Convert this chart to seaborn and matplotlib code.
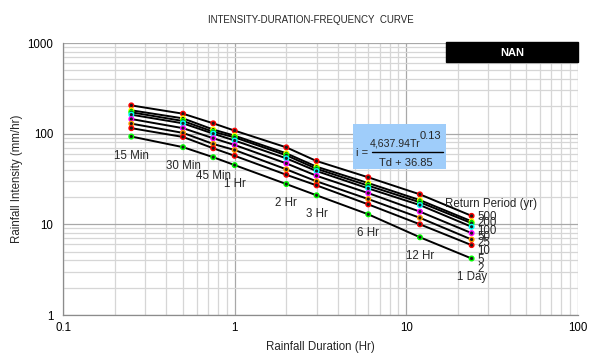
import numpy as np
import pandas as pd
import matplotlib
matplotlib.use("Agg")
import matplotlib.pyplot as plt
import seaborn as sns
from matplotlib.ticker import FixedLocator, FuncFormatter, LogLocator, NullFormatter
from matplotlib.patches import Rectangle

# ---- data ----
durations_hr = [0.25, 0.5, 0.75, 1, 2, 3, 6, 12, 24]
duration_labels = ["15 Min", "30 Min", "45 Min", "1 Hr", "2 Hr", "3 Hr", "6 Hr", "12 Hr", "1 Day"]
return_periods = [500, 200, 100, 50, 25, 10, 5, 2]
i_500 = [205, 166, 130, 108, 70.6, 49.9, 33.0, 21.4, 12.4]
i_200 = [181, 147.5, 111, 95, 60.7, 43.2, 28.5, 18.5, 10.8]
i_100 = [172, 138, 105, 91, 57.7, 41.0, 26.7, 17.5, 10.3]
i_50 = [162, 130, 100, 84, 53.4, 38.7, 24.9, 16.3, 9.4]
i_25 = [145, 115, 89, 75, 47.0, 34.3, 22.1, 13.8, 8.0]
i_10 = [129, 102, 77, 66, 40.4, 29.8, 19.0, 11.8, 6.8]
i_5 = [115, 92, 69, 57, 35.2, 26.9, 16.6, 10.0, 5.9]
i_2 = [93, 71, 55, 45, 27.8, 20.9, 12.9, 7.2, 4.2]
series = [i_500, i_200, i_100, i_50, i_25, i_10, i_5, i_2]
marker_colors = ["#ff0000", "#ffff00", "#00ff00", "#00ffff", "#ff00ff", "#ff9900", "#ff0000", "#00ff00"]
label_dy_px = [1.6, 2, 7.7, 10, 10, 11.7, 14.7, 10.6]

rows = []
for rp, vals in zip(return_periods, series):
    for d, v in zip(durations_hr, vals):
        rows.append({"rp": str(rp), "duration": d, "intensity": v})
df = pd.DataFrame(rows)

sns.set_theme(style="white")
plt.rcParams["font.family"] = ["Liberation Sans", "DejaVu Sans"]

W, H = 590, 354
fig = plt.figure(figsize=(W / 100, H / 100), dpi=100)
ax = fig.add_axes([63 / W, 1 - 315 / H, (578 - 63) / W, (315 - 43) / H])
ax.set_xscale("log")
ax.set_yscale("log")
ax.set_xlim(0.1, 100)
ax.set_ylim(1, 1000)

# grid
ax.xaxis.set_major_locator(FixedLocator([0.1, 1, 10, 100]))
ax.yaxis.set_major_locator(FixedLocator([1, 10, 100, 1000]))
ax.xaxis.set_minor_locator(LogLocator(base=10, subs=np.arange(2, 10)))
ax.yaxis.set_minor_locator(LogLocator(base=10, subs=np.arange(2, 10)))
ax.xaxis.set_minor_formatter(NullFormatter())
ax.yaxis.set_minor_formatter(NullFormatter())
fmt = FuncFormatter(lambda v, p: "%g" % v)
ax.xaxis.set_major_formatter(fmt)
ax.yaxis.set_major_formatter(fmt)
ax.grid(True, which="minor", color="#d6d6d6", lw=0.9)
ax.grid(True, which="major", color="#a8a8a8", lw=0.9)
ax.set_axisbelow(True)
for s in ["top", "right"]:
    ax.spines[s].set_visible(False)
for s in ["left", "bottom"]:
    ax.spines[s].set_color("#8c8c8c")
    ax.spines[s].set_linewidth(0.9)
ax.tick_params(which="both", length=0)
ax.tick_params(axis="x", labelsize=8.3, pad=5, colors="#000000")
ax.tick_params(axis="y", labelsize=8.3, pad=7, colors="#000000")

# lines (black) and coloured markers
sns.lineplot(data=df, x="duration", y="intensity", units="rp", estimator=None,
             color="black", lw=1.4, ax=ax, legend=False, zorder=3)
sns.scatterplot(data=df, x="duration", y="intensity", hue="rp",
                palette=dict(zip([str(r) for r in return_periods], marker_colors)),
                s=11, linewidth=1.0, ax=ax, legend=False, zorder=4)
coll = ax.collections[-1]
rp_keys = [str(r) for r in return_periods]
ec = [marker_colors[rp_keys.index(rp)] for rp in df["rp"]]
coll.set_edgecolors(ec)
coll.set_facecolors(["#1a1a1a"] * len(ec))

ax.set_xlabel("Rainfall Duration (Hr)", fontsize=8.3, labelpad=5)
ax.set_ylabel("Rainfall Intensity (mm/hr)", fontsize=8.3, labelpad=3)

# duration labels under 2-yr series
for d, v, lab in zip(durations_hr, i_2, duration_labels):
    ax.annotate(lab, xy=(d, v), xytext=(0, -19), textcoords="offset pixels",
                ha="center", va="center", fontsize=8.3)

# return period labels
for rp, vals, dy in zip(return_periods, series, label_dy_px):
    ax.annotate(str(rp), xy=(durations_hr[-1], vals[-1]), xytext=(6, -dy),
                textcoords="offset pixels", ha="left", va="center", fontsize=8.3)
ax.annotate("Return Period (yr)", xy=(durations_hr[-1], i_500[-1]), xytext=(-27, 12),
            textcoords="offset pixels", ha="left", va="center", fontsize=8.3)

# title
fig.text(311 / W, 1 - 20 / H, "INTENSITY-DURATION-FREQUENCY  CURVE", ha="center",
         va="center", fontsize=7.0)

# NAN box
fig.patches.append(Rectangle((446 / W, 1 - 62 / H), (578 - 446) / W, 20 / H,
                             transform=fig.transFigure, color="black", zorder=5))
fig.text(512 / W, 1 - 53 / H, "NAN", ha="center", va="center", color="white",
         fontsize=8, fontweight="bold", zorder=6)

# formula box
fig.patches.append(Rectangle((353 / W, 1 - 169 / H), (446 - 353) / W, 45 / H,
                             transform=fig.transFigure, facecolor="#9fcdfa",
                             edgecolor="none", zorder=5))
fig.text(356 / W, 1 - 153 / H, "i =", ha="left", va="center", fontsize=8, zorder=6)
fig.text(395 / W, 1 - 144 / H, "4,637.94Tr", ha="center", va="center", fontsize=7.6, zorder=6)
fig.text(420 / W, 1 - 136 / H, "0.13", ha="left", va="center", fontsize=8, zorder=6)
fig.lines.append(plt.Line2D([372 / W, 443 / W], [1 - 151.5 / H, 1 - 151.5 / H],
                            transform=fig.transFigure, color="black", lw=1, zorder=6))
fig.text(406 / W, 1 - 163 / H, "Td + 36.85", ha="center", va="center", fontsize=8, zorder=6)

fig.savefig("out.png", dpi=100)
